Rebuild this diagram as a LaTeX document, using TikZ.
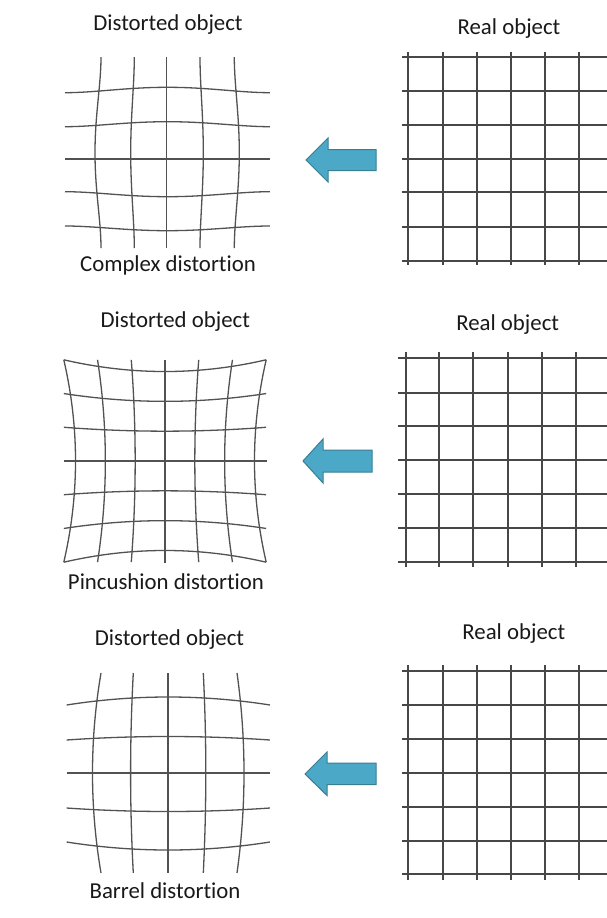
\documentclass[tikz,border=0pt]{standalone}
\usepackage{fontspec}
\setmainfont{Carlito}[RawFeature={-liga;-clig;-calt;-dlig}]
\newcommand\tI{t\kern0pt i}
\begin{document}
\begin{tikzpicture}[x=1pt,y=-1pt,
  lbl/.style={anchor=base,inner sep=0pt,font=\fontsize{22.8}{26}\selectfont,text=black!90},
  dgrid/.style={draw=black!68,line width=1.3pt},
  rgrid/.style={draw=black!72,line width=1.5pt},
  bigarrow/.style={fill=arrowfill,draw=arrowline,line width=1pt,line join=miter}]
\definecolor{arrowfill}{HTML}{4BA8C6}
\definecolor{arrowline}{HTML}{3A7E93}
\useasboundingbox (0,0) rectangle (607,918);
\fill[white] (0,0) rectangle (607,918);

% ---------- Row 1: complex distortion ----------
\node[lbl] (d1) at (168,30.7) {Distorted object};
\node[lbl] (c1) at (168,271) {Complex distor\tI on};
\node[lbl] (r1) at (509,34) {Real object};
\foreach \e/\a in {92.7/-5.4,126.7/-5,159/0,191.7/5,226/4.7}
  \draw[dgrid] plot[domain=-1:1,samples=41,smooth] ({167.5+102.5*\x},{\e+(\a)*(1-\x*\x)^2});
\foreach \e/\a in {101/-6,134.3/-3.6,166.7/0,200/3.3,234.3/5}
  \draw[dgrid] plot[domain=-1:1,samples=41,smooth] ({\e+(\a)*(1-\x*\x)^2},{152.7+95.5*\x});
\foreach \y in {57,91,125,159,192,227,261}
  \draw[rgrid] (402,\y) -- (607,\y);
\foreach \x in {408,443,477,511,545,579}
  \draw[rgrid] (\x,52) -- (\x,265);
\draw[bigarrow] (306,160) -- (328,138) -- (328,149.5) -- (376,149.5) -- (376,170.5) -- (328,170.5) -- (328,182) -- cycle;

% ---------- Row 2: pincushion distortion ----------
\node[lbl] (d2) at (175.3,327.5) {Distorted object};
\node[lbl] (c2) at (166,589.3) {Pincushion distor\tI on};
\node[lbl] (r2) at (507.7,330.7) {Real object};
\foreach \v in {-3,...,3}
  \draw[dgrid] plot[domain=-1:1,samples=41,smooth] ({165+101.2*\x},{461+29.83*\v*(1+0.131*\x*\x)});
\foreach \u in {-3,...,3}
  \draw[dgrid] plot[domain=-1:1,samples=41,smooth] ({165+29.83*\u*(1+0.131*\x*\x)},{461+101.2*\x});
\foreach \y in {358,393,426,460,494,528,562}
  \draw[rgrid] (398,\y) -- (607,\y);
\foreach \x in {406,439,473,508,542,576}
  \draw[rgrid] (\x,352) -- (\x,567);
\draw[bigarrow] (303,461) -- (323,439) -- (323,450) -- (372,450) -- (372,472) -- (323,472) -- (323,483) -- cycle;

% ---------- Row 3: barrel distortion ----------
\node[lbl] (d3) at (169.5,645) {Distorted object};
\node[lbl] (c3) at (165,898.3) {Barrel distor\tI on};
\node[lbl] (r3) at (513.8,639) {Real object};
\foreach \e/\a in {705/-8,740/-3.5,773/0,808/3.5,842/8}
  \draw[dgrid] plot[domain=-1:1,samples=41,smooth] ({168.3+101.7*\x},{\e+(\a)*(1-\x*\x)});
\foreach \e/\a in {101/-8.5,133.3/-2.7,168/0,203.3/2.5,237/7}
  \draw[dgrid] plot[domain=-1:1,samples=41,smooth] ({\e+(\a)*(1-\x*\x)},{773+100*\x});
\foreach \y in {671,705,739,773,807,841,874}
  \draw[rgrid] (402,\y) -- (607,\y);
\foreach \x in {408,443,477,511,545,579}
  \draw[rgrid] (\x,665) -- (\x,880);
\draw[bigarrow] (305,774) -- (327,752) -- (327,763) -- (376,763) -- (376,784.5) -- (327,784.5) -- (327,795.5) -- cycle;
\end{tikzpicture}
\end{document}
